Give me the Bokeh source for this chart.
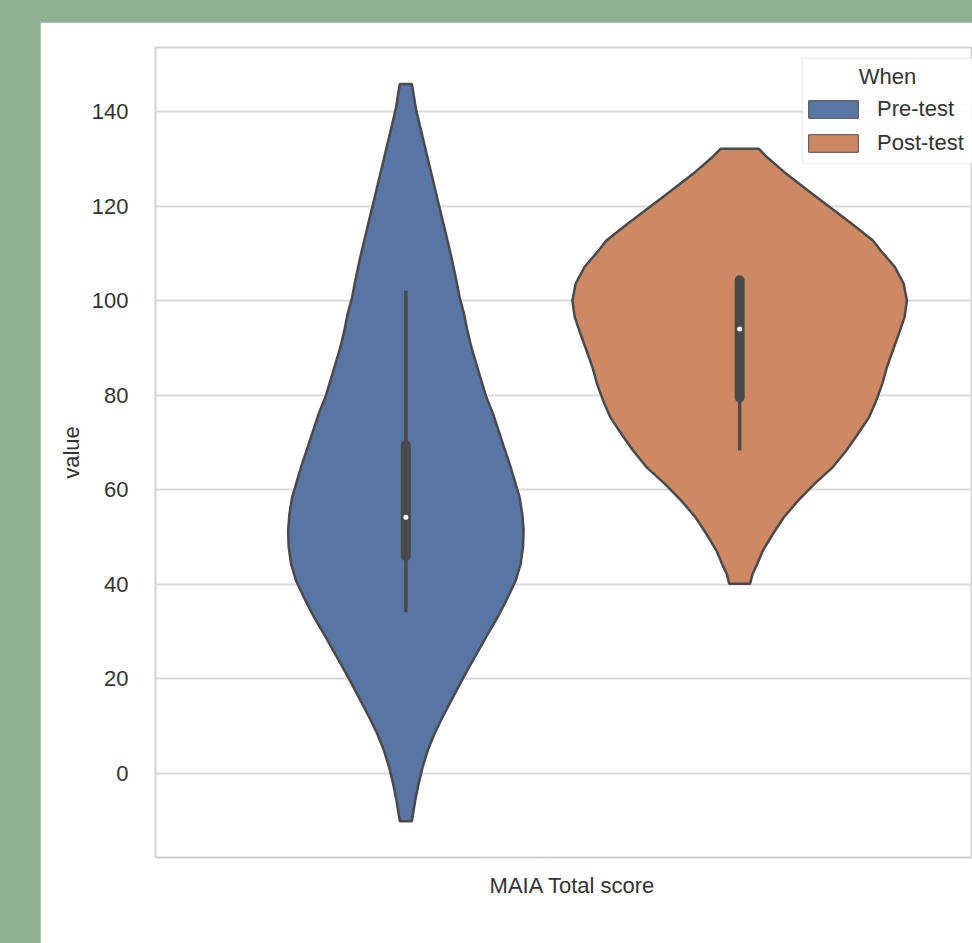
from bokeh.plotting import figure
from bokeh.models import (Range1d, FixedTicker, Legend, LegendItem, Label, BoxAnnotation,
                          GlobalInlineStyleSheet, ColumnDataSource)
from bokeh.embed import file_html
from bokeh.resources import INLINE

# ---------------- data ----------------
category = ["MAIA Total score"]
groups = ["Pre-test", "Post-test"]
legend_title = "When"
y_label = "value"
y_ticks = [0, 20, 40, 60, 80, 100, 120, 140]

# violin profiles: value levels and scaled half-widths (axis units)
pre_levels = [145.8, 144.1, 140.6, 137.0, 133.5, 130.0, 126.5, 122.9, 119.4, 115.9,
              112.4, 108.8, 104.3, 100.7, 97.2, 93.7, 90.2, 86.6, 83.1, 79.6,
              76.1, 72.5, 69.0, 65.5, 62.0, 58.4, 54.9, 51.4, 47.9, 44.3,
              40.8, 36.6, 33.1, 29.5, 26.0, 22.5, 19.0, 15.4, 11.9,
              8.4, 4.9, 1.3, -2.2, -5.7, -9.2, -10.1]
pre_width = [0.0072, 0.0088, 0.0120, 0.0168, 0.0216, 0.0263, 0.0311, 0.0359, 0.0407, 0.0455,
             0.0503, 0.0551, 0.0605, 0.0644, 0.0697, 0.0737, 0.0784, 0.0844, 0.0904, 0.0964,
             0.1044, 0.1111, 0.1176, 0.1243, 0.1303, 0.1363, 0.1395, 0.1411, 0.1404, 0.1375,
             0.1317, 0.1204, 0.1102, 0.0982, 0.0870, 0.0758, 0.0651, 0.0543, 0.0439,
             0.0343, 0.0263, 0.0200, 0.0152, 0.0112, 0.0080, 0.0072]

post_levels = [132.1, 130.3, 126.8, 123.3, 119.8, 116.2, 112.7, 110.6, 107.1, 103.6,
               100.0, 96.5, 93.0, 89.5, 85.9, 82.4, 78.9, 75.3, 71.8, 68.3,
               64.8, 61.3, 57.7, 54.2, 50.7, 47.2, 43.9, 42.2, 40.1]
post_width = [0.0230, 0.0329, 0.0559, 0.0818, 0.1078, 0.1347, 0.1597, 0.1690, 0.1860, 0.1965,
              0.2004, 0.1976, 0.1908, 0.1836, 0.1764, 0.1709, 0.1637, 0.1549, 0.1417, 0.1278,
              0.1117, 0.0900, 0.0700, 0.0530, 0.0400, 0.0280, 0.0200, 0.0155, 0.0124]

# inner box stats: whisker low, q1, median, q3, whisker high
pre_box = [34.1, 46.0, 54.2, 69.4, 102.1]
post_box = [68.3, 79.5, 94.0, 104.3, 104.3]

colors = ["#5975a4", "#cc8963"]
gray = "#4a4a4a"
txt = "#333333"
font = "Liberation Sans"

# dodge positions (seaborn: width .8 split over hue levels)
width_total = 0.8
n = len(groups)
offsets = [-width_total / 2 + width_total / n / 2 + i * width_total / n for i in range(n)]

p = figure(width=932, height=921, output_backend="svg", toolbar_location=None,
           x_range=Range1d(-0.5, 0.479), y_range=Range1d(-17.76, 153.52),
           margin=(22, 0, 0, 40),
           min_border_left=115, min_border_right=0, min_border_top=25, min_border_bottom=86,
           stylesheets=[GlobalInlineStyleSheet(css="body { background-color: #90b093; }")])

p.background_fill_color = "white"
p.border_fill_color = "white"
p.outline_line_color = "#d2d2d2"
p.outline_line_width = 2

items = []
for g, off, lv, wd, col, box in zip(groups, offsets, [pre_levels, post_levels],
                                    [pre_width, post_width], colors, [pre_box, post_box]):
    xs = [off + w for w in wd] + [off - w for w in reversed(wd)]
    ys = list(lv) + list(reversed(lv))
    # legend proxy (thin outline), hidden under the violin itself
    proxy = p.patch(xs, ys, fill_color=col, line_color=gray, line_width=1)
    items.append(LegendItem(label=g, renderers=[proxy]))
    p.patch(xs, ys, fill_color=col, line_color=gray, line_width=2.5)
    src = ColumnDataSource(dict(x=[off], lo=[box[0]], q1=[box[1]], med=[box[2]],
                                q3=[box[3]], hi=[box[4]]))
    p.segment(x0="x", y0="lo", x1="x", y1="hi", source=src, line_color=gray, line_width=3.5)
    p.segment(x0="x", y0="q1", x1="x", y1="q3", source=src, line_color=gray, line_width=10,
              line_cap="round")
    p.scatter(x="x", y="med", source=src, size=5, fill_color="white", line_color=None)

# legend frame (drawn separately so the centred title can sit on top of it)
p.add_layout(BoxAnnotation(left=647, right=835, bottom=694, top=799,
                           left_units="screen", right_units="screen",
                           bottom_units="screen", top_units="screen",
                           fill_color="white", fill_alpha=0.85,
                           line_color="#cccccc", line_width=1.5, level="annotation"))

legend = Legend(items=items, title=legend_title, location=(641, 695),
                label_text_font_size="22px", label_text_color=txt, label_text_font=font,
                title_text_font_size="22px", title_text_font_style="normal",
                title_text_color=txt, title_text_font=font, title_text_alpha=0,
                glyph_width=62, glyph_height=22, label_standoff=13,
                padding=6, spacing=8, title_standoff=8, margin=0,
                border_line_color="#cccccc", border_line_alpha=0, border_line_width=1.5,
                background_fill_color="white", background_fill_alpha=0)
p.add_layout(legend)

# centred legend title
p.add_layout(Label(x=732, y=781, x_units="screen", y_units="screen", text=legend_title,
                   text_align="center", text_baseline="middle", text_font_size="22px",
                   text_color=txt, text_font=font, level="overlay"))

# axes
p.xgrid.visible = False
p.ygrid.ticker = FixedTicker(ticks=y_ticks)
p.ygrid.grid_line_color = "#d9d9d9"
p.ygrid.grid_line_width = 2

p.yaxis.ticker = FixedTicker(ticks=y_ticks)
p.xaxis.ticker = FixedTicker(ticks=[0])
p.xaxis.major_label_overrides = {0: category[0]}
p.yaxis.axis_label = y_label

for ax in (p.xaxis[0], p.yaxis[0]):
    ax.axis_line_color = None
    ax.major_tick_line_color = None
    ax.minor_tick_line_color = None
    ax.major_label_text_font_size = "22px"
    ax.major_label_text_color = txt
    ax.major_label_text_font = font
    ax.axis_label_text_font_size = "22px"
    ax.axis_label_text_font_style = "normal"
    ax.axis_label_text_color = txt
    ax.axis_label_text_font = font
p.yaxis.major_label_standoff = 21
p.yaxis.axis_label_standoff = 5
p.xaxis.major_label_standoff = 9

open("out.html", "w").write(file_html(p, INLINE))
